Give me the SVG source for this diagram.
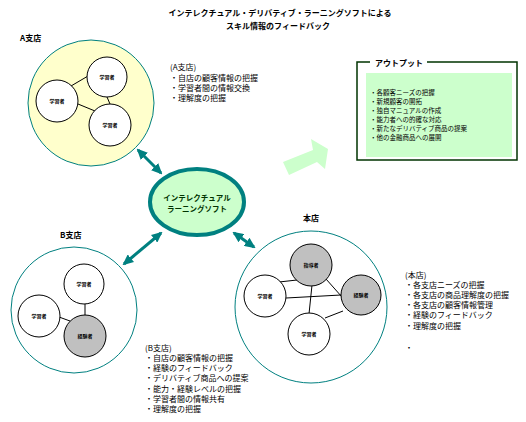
<svg xmlns="http://www.w3.org/2000/svg" width="526" height="422" viewBox="0 0 526 422">
<defs>
<style>
text{font-family:"Noto Sans CJK JP","Noto Sans",sans-serif;fill:#000}
.t{font-size:8px;font-weight:bold}
.b{font-size:8px}
.o{font-size:6.5px}
.n{font-size:5px;font-weight:bold;text-anchor:middle}
.c{font-size:7.5px;font-weight:bold;fill:#003300;text-anchor:middle}
.big{stroke:#008080;stroke-width:1}
.in{stroke:#000;stroke-width:1;fill:#fff}
.g{stroke:#000;stroke-width:1;fill:#c0c0c0}
.ln{stroke:#000;stroke-width:1}
.arr{stroke:#008080;stroke-width:3;fill:none;marker-start:url(#ah);marker-end:url(#ah)}
</style>
<marker id="ah" markerUnits="userSpaceOnUse" markerWidth="11" markerHeight="10" refX="9" refY="5" orient="auto-start-reverse">
<path d="M0,0 L11,5 L0,10 z" fill="#008080"/>
</marker>
</defs>
<rect width="526" height="422" fill="#fff"/>
<g id="title">
<text class="t" x="280" y="16" text-anchor="middle">インテレクチュアル・デリバティブ・ラーニングソフトによる</text>
<text class="t" x="278" y="29" text-anchor="middle">スキル情報のフィードバック</text>
</g>
<g id="connectors">
<line class="arr" x1="138" y1="150" x2="161" y2="173"/>
<line class="arr" x1="124" y1="264" x2="161" y2="233"/>
<line class="arr" x1="234" y1="233" x2="254" y2="247"/>
<polygon points="283,162 313,150 311,139 328,149 325,169 317,162 289,175" fill="#ccffcc"/>
</g>
<g id="branchA">
<text class="t" x="20" y="41">A支店</text>
<circle class="big" cx="91" cy="103" r="63" fill="#ffffcc"/>
<line class="ln" x1="71" y1="86" x2="88" y2="76"/>
<line class="ln" x1="78" y1="104" x2="95" y2="111"/>
<line class="ln" x1="107" y1="97" x2="110" y2="104"/>
<circle class="in" cx="107" cy="77" r="20"/>
<circle class="in" cx="57" cy="101" r="21"/>
<circle class="in" cx="110" cy="125" r="21"/>
<text class="n" x="107" y="79">学習者</text>
<text class="n" x="57" y="103">学習者</text>
<text class="n" x="110" y="127">学習者</text>
</g>
<g id="textA">
<text class="b" x="170" y="70">(A支店)</text>
<text class="b" x="170" y="81">・自店の顧客情報の把握</text>
<text class="b" x="170" y="91">・学習者間の情報交換</text>
<text class="b" x="170" y="101">・理解度の把握</text>
</g>
<g id="output">
<rect x="357" y="62" width="160" height="98" fill="none" stroke="#003300" stroke-width="1.5"/>
<rect x="370" y="56" width="57" height="12" fill="#fff"/>
<rect x="366" y="73" width="146" height="84" fill="#ccffcc"/>
<text class="t" x="375" y="66">アウトプット</text>
<text class="o" x="370" y="95">・各顧客ニーズの把握</text>
<text class="o" x="370" y="104">・新規顧客の開拓</text>
<text class="o" x="370" y="113">・独自マニュアルの作成</text>
<text class="o" x="370" y="122">・能力者への的確な対応</text>
<text class="o" x="370" y="131">・新たなデリバティブ商品の提案</text>
<text class="o" x="370" y="140">・他の金融商品への展開</text>
</g>
<g id="center">
<ellipse cx="197" cy="202" rx="47" ry="33" fill="#ccffcc" stroke="#008080" stroke-width="4"/>
<text class="c" x="197" y="201">インテレクチュアル</text>
<text class="c" x="197" y="212">ラーニングソフト</text>
</g>
<g id="branchB">
<text class="t" x="60" y="238">B支店</text>
<circle class="big" cx="74" cy="310" r="63" fill="#fff"/>
<line class="ln" x1="85" y1="304" x2="85" y2="316"/>
<line class="ln" x1="59" y1="317" x2="70" y2="321"/>
<circle class="in" cx="84" cy="284" r="20"/>
<circle class="in" cx="39" cy="316" r="21"/>
<circle class="g" cx="85" cy="336" r="21"/>
<text class="n" x="84" y="286">学習者</text>
<text class="n" x="39" y="318">学習者</text>
<text class="n" x="85" y="338">経験者</text>
</g>
<g id="textB">
<text class="b" x="145" y="351">(B支店)</text>
<text class="b" x="145" y="361">・自店の顧客情報の把握</text>
<text class="b" x="145" y="371">・経験のフィードバック</text>
<text class="b" x="145" y="381">・デリバティブ商品への提案</text>
<text class="b" x="145" y="392">・能力・経験レベルの把握</text>
<text class="b" x="145" y="402">・学習者間の情報共有</text>
<text class="b" x="145" y="412">・理解度の把握</text>
</g>
<g id="honten">
<text class="t" x="303" y="221">本店</text>
<circle class="big" cx="311" cy="307" r="76" fill="#fff"/>
<line class="ln" x1="279" y1="282" x2="297" y2="280"/>
<line class="ln" x1="286" y1="298" x2="341" y2="295"/>
<line class="ln" x1="326" y1="279" x2="342" y2="297"/>
<line class="ln" x1="312" y1="285" x2="309" y2="314"/>
<line class="ln" x1="325" y1="318" x2="343" y2="311"/>
<circle class="g" cx="311" cy="265" r="21"/>
<circle class="g" cx="361" cy="295" r="20"/>
<circle class="in" cx="265" cy="296" r="21"/>
<circle class="in" cx="309" cy="334" r="21"/>
<text class="n" x="311" y="267">指導者</text>
<text class="n" x="361" y="297">経験者</text>
<text class="n" x="265" y="298">学習者</text>
<text class="n" x="309" y="336">学習者</text>
</g>
<g id="textHonten">
<text class="b" x="405" y="278">(本店)</text>
<text class="b" x="405" y="288">・各支店ニーズの把握</text>
<text class="b" x="405" y="298">・各支店の商品理解度の把握</text>
<text class="b" x="405" y="308">・各支店の顧客情報管理</text>
<text class="b" x="405" y="318">・経験のフィードバック</text>
<text class="b" x="405" y="329">・理解度の把握</text>
<text class="b" x="405" y="351">・</text>
</g>
</svg>
